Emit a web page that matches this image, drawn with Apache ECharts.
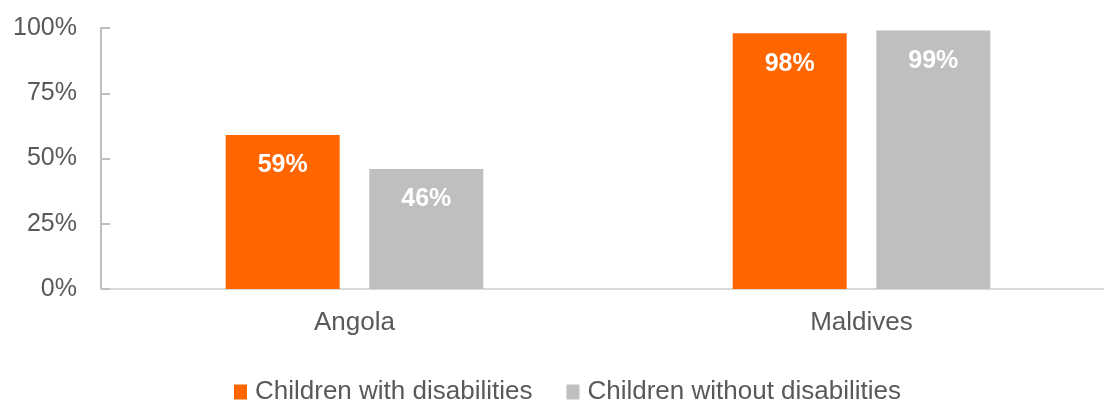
<!DOCTYPE html>
<html>
<head>
<meta charset="utf-8">
<script src="https://cdn.jsdelivr.net/npm/echarts@6/dist/echarts.min.js"></script>
<style>
  html, body { margin: 0; padding: 0; background: #fff; }
  #chart { width: 1104px; height: 401px; }
</style>
</head>
<body>
<div id="chart"></div>
<script>
// data
var countries = ['Angola', 'Maldives'];
var withDisab = [59, 98];
var withoutDisab = [46, 99];
var seriesNames = ['Children with disabilities', 'Children without disabilities'];

var font = '"Liberation Sans", Arial, sans-serif';
var label = {
  show: true,
  position: 'insideTop',
  distance: 18,
  color: '#ffffff',
  fontWeight: 'bold',
  fontSize: 25,
  fontFamily: font,
  formatter: '{c}%'
};

var option = {
  animation: false,
  textStyle: { fontFamily: font },
  grid: {
    left: 101, width: 1014, top: 28, bottom: 112,
    containLabel: false,
    outerBoundsMode: 'none'
  },
  legend: {
    left: 229,
    top: 374,
    itemWidth: 13,
    itemHeight: 15,
    itemGap: 34,
    icon: 'rect',
    textStyle: { fontSize: 26, color: '#595959', fontFamily: font, padding: [0, 0, 0, 3] },
    data: seriesNames
  },
  xAxis: {
    type: 'category',
    data: countries,
    axisLine: { lineStyle: { color: '#d9d9d9', width: 2 } },
    axisTick: { show: false },
    axisLabel: { fontSize: 26, color: '#595959', fontFamily: font, margin: 21 }
  },
  yAxis: {
    type: 'value',
    min: 0,
    max: 100,
    interval: 25,
    splitLine: { show: false },
    axisLine: { show: true, lineStyle: { color: '#bfbfbf', width: 2 } },
    axisTick: { show: true, inside: true, length: 9, lineStyle: { color: '#bfbfbf', width: 2 } },
    axisLabel: { fontSize: 25, color: '#595959', fontFamily: font, margin: 24, formatter: '{value}%' }
  },
  series: [
    {
      name: seriesNames[0],
      type: 'bar',
      data: withDisab,
      barWidth: 114,
      barGap: '26%',
      itemStyle: { color: '#ff6600' },
      label: label
    },
    {
      name: seriesNames[1],
      type: 'bar',
      data: withoutDisab,
      barWidth: 114,
      itemStyle: { color: '#bfbfbf' },
      label: label
    }
  ]
};

echarts.init(document.getElementById('chart')).setOption(option);
</script>
</body>
</html>
